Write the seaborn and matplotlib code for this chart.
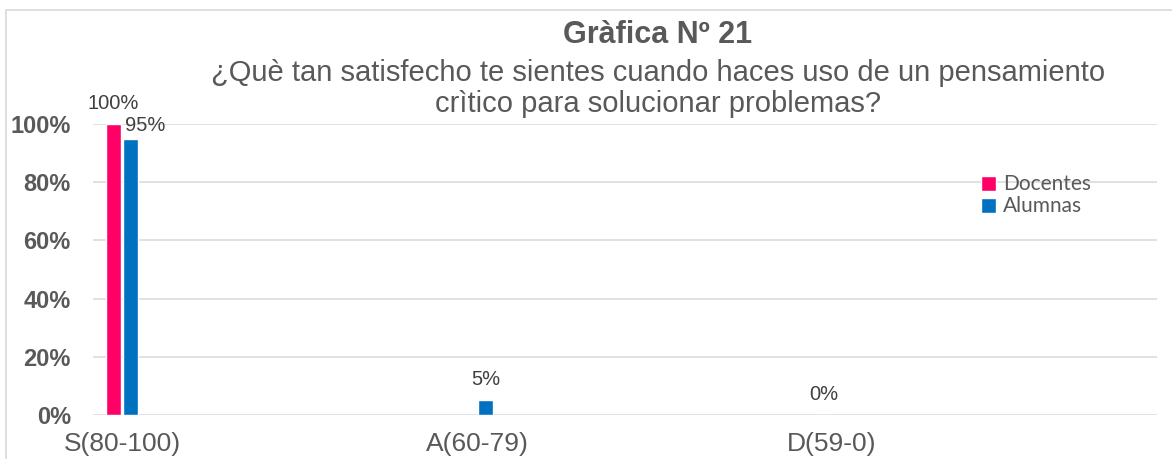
import numpy as np
import pandas as pd
import seaborn as sns
import matplotlib.pyplot as plt
from matplotlib.patches import Rectangle

# datos de la gráfica
categorias = ['S(80-100)', 'A(60-79)', 'D(59-0)']
grupos = ['Docentes', 'Alumnas']
docentes = [1.00, np.nan, 0.00]
alumnas = [0.95, 0.05, np.nan]
colores = ['#FF0066', '#0070C0']

df = pd.DataFrame({
    'categoria': categorias * 2,
    'grupo': ['Docentes'] * 3 + ['Alumnas'] * 3,
    'valor': docentes + alumnas,
})

sns.set_style('white')
plt.rcParams['font.family'] = ['Liberation Sans', 'DejaVu Sans']
gris = '#595959'

fig = plt.figure(figsize=(11.72, 4.59), dpi=100)
ax = fig.add_axes([93 / 1172, 44 / 459, 1064 / 1172, 291 / 459])

sns.barplot(data=df, x='categoria', y='valor', hue='grupo', order=categorias,
            hue_order=grupos, palette=colores, width=0.096, gap=0.15,
            errorbar=None, saturation=1, ax=ax)

ax.set_xlim(-0.0817, 2.915)
ax.set_ylim(0, 1.0)
ax.set_yticks(np.arange(0, 1.01, 0.2))
ax.set_yticklabels([f'{int(round(v * 100))}%' for v in np.arange(0, 1.01, 0.2)],
                   fontweight='bold', fontsize=17, color=gris)
ax.tick_params(axis='y', length=0, pad=16)
ax.tick_params(axis='x', length=0, pad=12, labelsize=19, labelcolor=gris)
ax.set_xlabel('')
ax.set_ylabel('')
ax.grid(axis='y', color='#d9d9d9', linewidth=1.1)
ax.set_axisbelow(True)
for s in ['top', 'right', 'left', 'bottom']:
    ax.spines[s].set_visible(False)

# etiquetas de datos
desplaza = {('Alumnas', 0): (15, 13)}
for g, cont in zip(grupos, ax.containers):
    for barra in cont:
        h = barra.get_height()
        if np.isnan(h):
            continue
        xc = barra.get_x() + barra.get_width() / 2
        idx = int(round(xc))
        dx, dy = desplaza.get((g, idx), (0, 21))
        ax.annotate(f'{int(round(h * 100))}%', (xc, h), xytext=(dx, dy),
                    textcoords='offset pixels', ha='center', va='center',
                    fontsize=14.5, color='#404040', annotation_clip=False)

leg = ax.legend(loc='upper left', bbox_to_anchor=(971 / 1172, 1 - 164 / 459),
                bbox_transform=fig.transFigure, frameon=False,
                prop={'family': 'Lato', 'size': 15}, handlelength=0.72,
                handleheight=0.72, handletextpad=0.3, labelspacing=0.1,
                borderpad=0)
for t in leg.get_texts():
    t.set_color(gris)

fig.text(658 / 1172, 1 - 35 / 459, 'Gràfica Nº 21', ha='center', va='center',
         fontsize=22, fontweight='bold', color=gris)
fig.text(658 / 1172, 1 - 73 / 459,
         '¿Què tan satisfecho te sientes cuando haces uso de un pensamiento',
         ha='center', va='center', fontsize=21, color=gris)
fig.text(658 / 1172, 1 - 104 / 459, 'crìtico para solucionar problemas?',
         ha='center', va='center', fontsize=21, color=gris)

fig.patches.append(Rectangle((6 / 1172, -0.1), 1.2, 1.1 - 10 / 459,
                             transform=fig.transFigure, fill=False,
                             edgecolor='#d9d9d9', linewidth=1.2))

fig.savefig('out.png', dpi=100)
